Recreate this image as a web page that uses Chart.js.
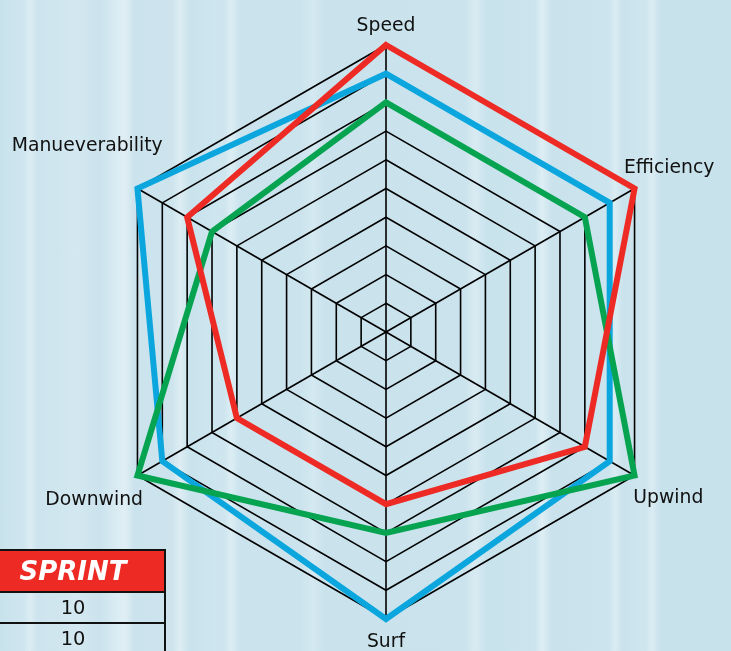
<!DOCTYPE html>
<html>
<head>
<meta charset="utf-8">
<script src="https://cdn.jsdelivr.net/npm/chart.js@4/dist/chart.umd.min.js"></script>
<style>
  html, body { margin: 0; padding: 0; width: 731px; height: 651px; overflow: hidden; }
  body {
    position: relative;
    font-family: "DejaVu Sans", sans-serif;
    background: linear-gradient(to right,
      #c8e2ec 0px, #cfe6ef 24px, #dcedf3 30px, #cde4ee 37px,
      #d3e8f0 78px, #cbe3ed 100px, #dbecf3 118px, #e0eef4 125px, #cbe3ed 134px,
      #cde4ed 172px, #ddedf3 180px, #c9e3ec 190px,
      #cfe6ef 225px, #dceef4 231px, #cae3ed 240px,
      #cbe3ed 300px, #d4e9f1 313px, #c9e2ec 325px,
      #cbe3ed 465px, #d9ebf2 475px, #c9e3ed 486px,
      #cbe4ee 535px, #deeef4 542px, #c9e2ec 552px,
      #cbe4ee 608px, #dbecf3 615px, #c9e2ec 623px,
      #cfe6ef 646px, #dbecf3 652px, #c8e2ec 660px, #c8e2ec 731px);
  }
  #wrap { position: absolute; left: 0; top: 0; width: 731px; height: 651px; }
  #scores {
    position: absolute; left: -20px; top: 549px;
    border-collapse: collapse; width: 186px;
  }
  #scores th {
    background: #ee2a24; color: #fff;
    font: italic bold 26px "DejaVu Sans", sans-serif;
    height: 40px; padding: 0; border: 2px solid #111;
  }
  #scores td {
    font: 19.4px "DejaVu Sans", sans-serif; color: #111;
    text-align: center; height: 29px; padding: 0; border: 2px solid #111;
  }
</style>
</head>
<body>
<div id="wrap"><canvas id="radar" width="731" height="651"></canvas></div>
<table id="scores"><thead><tr><th id="scoresHead"></th></tr></thead><tbody id="scoresBody"></tbody></table>
<script>
// Board attributes, one spoke each
const categories = ['Speed', 'Efficiency', 'Upwind', 'Surf', 'Downwind', 'Manueverability'];

// Ratings out of 10
const sprintValues = [10, 10, 8, 6, 6, 8];
const blueValues   = [9, 9, 9, 10, 9, 10];
const greenValues  = [8, 8, 10, 7, 10, 7];

const scaleMax = 10;
const tableTitle = 'SPRINT';

// Distance of each spoke title beyond the outer ring, and a small vertical nudge
const labelGap   = [19, 40, 39, 23, 50, 58];
const labelNudge = [0, 0, 3, 0, 0, -13];

const spokeTitles = {
  id: 'spokeTitles',
  afterDraw(chart) {
    const r = chart.scales.r;
    const ctx = chart.ctx;
    ctx.save();
    ctx.font = '18.8px "DejaVu Sans"';
    ctx.fillStyle = '#111';
    ctx.textAlign = 'center';
    ctx.textBaseline = 'middle';
    categories.forEach((name, i) => {
      const p = r.getPointPosition(i, r.drawingArea + labelGap[i]);
      ctx.fillText(name, p.x, p.y + labelNudge[i]);
    });
    ctx.restore();
  }
};

const lineStyle = { fill: false, borderWidth: 6, pointRadius: 0, pointHoverRadius: 0, borderJoinStyle: 'miter', backgroundColor: 'transparent' };

new Chart(document.getElementById('radar'), {
  type: 'radar',
  data: {
    labels: categories,
    datasets: [
      Object.assign({ label: tableTitle, data: sprintValues, borderColor: '#ee2a24' }, lineStyle),
      Object.assign({ label: 'Series 2', data: greenValues, borderColor: '#06a350' }, lineStyle),
      Object.assign({ label: 'Series 3', data: blueValues, borderColor: '#0ba6dd' }, lineStyle)
    ]
  },
  options: {
    responsive: false,
    animation: false,
    events: [],
    layout: { padding: { left: 99, right: 58, top: 45, bottom: 32 } },
    plugins: { legend: { display: false }, tooltip: { enabled: false } },
    scales: {
      r: {
        min: 0,
        max: scaleMax,
        ticks: { display: false, stepSize: 1 },
        pointLabels: { display: false },
        grid: { color: '#000', lineWidth: 1.6 },
        angleLines: { color: '#000', lineWidth: 1.6 }
      }
    }
  },
  plugins: [spokeTitles]
});

// Score table for the red series
document.getElementById('scoresHead').textContent = tableTitle;
const body = document.getElementById('scoresBody');
sprintValues.forEach(v => {
  const tr = document.createElement('tr');
  const td = document.createElement('td');
  td.textContent = String(v);
  tr.appendChild(td);
  body.appendChild(tr);
});
</script>
</body>
</html>
